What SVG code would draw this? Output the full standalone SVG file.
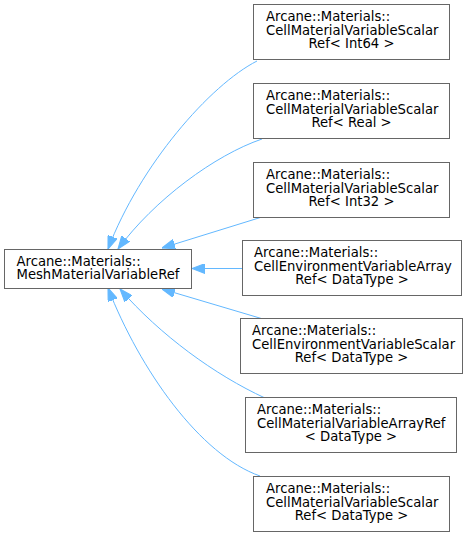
<svg xmlns="http://www.w3.org/2000/svg" width="468" height="537" viewBox="0 0 468 537">
<style>
.n rect{fill:#fff;stroke:#666;stroke-width:1}
.n text{font-family:"DejaVu Sans",sans-serif;font-size:13.2px;fill:#000}
.c{text-anchor:middle}
.e path{fill:none;stroke:#63b8ff;stroke-width:1;marker-end:url(#ah)}
</style>
<defs>
<marker id="ah" markerUnits="userSpaceOnUse" markerWidth="13" markerHeight="10" refX="12" refY="4.5" orient="auto" viewBox="0 0 12 9">
<path d="M0,0 L12,4.5 L0,9 z" fill="#63b8ff" stroke="#63b8ff"/>
</marker>
</defs>
<rect width="468" height="537" fill="#fff"/>
<g class="e" id="edges">
<path d="M257,61 C210,85 140,165 108,249"/>
<path d="M262,139 C215,155 154,200 118,249"/>
<path d="M262,217 L162,248"/>
<path d="M242,268.5 L192,268.5"/>
<path d="M263,319 L162,289"/>
<path d="M265,398 C215,375 160,335 120,289"/>
<path d="M260,476 C200,455 140,370 108,288"/>
</g>
<g class="n" id="base">
<rect x="4.5" y="249.5" width="187" height="39"/>
<text x="16.5" y="265.5">Arcane::Materials::</text>
<text x="16.5" y="279">MeshMaterialVariableRef</text>
</g>
<g class="n" id="n1">
<rect x="253.5" y="4.5" width="196" height="55"/>
<text x="266" y="21">Arcane::Materials::</text>
<text x="266" y="34.5">CellMaterialVariableScalar</text>
<text class="c" x="351.5" y="48">Ref&lt; Int64 &gt;</text>
</g>
<g class="n" id="n2">
<rect x="253.5" y="83.5" width="196" height="55"/>
<text x="266" y="100">Arcane::Materials::</text>
<text x="266" y="113.5">CellMaterialVariableScalar</text>
<text class="c" x="351.5" y="127">Ref&lt; Real &gt;</text>
</g>
<g class="n" id="n3">
<rect x="253.5" y="162.5" width="196" height="55"/>
<text x="266" y="179">Arcane::Materials::</text>
<text x="266" y="192.5">CellMaterialVariableScalar</text>
<text class="c" x="351.5" y="206">Ref&lt; Int32 &gt;</text>
</g>
<g class="n" id="n4">
<rect x="242.5" y="240.5" width="219" height="55"/>
<text x="254" y="257">Arcane::Materials::</text>
<text x="254" y="270.5">CellEnvironmentVariableArray</text>
<text class="c" x="352" y="284">Ref&lt; DataType &gt;</text>
</g>
<g class="n" id="n5">
<rect x="240.5" y="318.5" width="222" height="55"/>
<text x="252" y="335">Arcane::Materials::</text>
<text x="252" y="348.5">CellEnvironmentVariableScalar</text>
<text class="c" x="351.5" y="362">Ref&lt; DataType &gt;</text>
</g>
<g class="n" id="n6">
<rect x="245.5" y="397.5" width="211" height="55"/>
<text x="257" y="414">Arcane::Materials::</text>
<text x="257" y="427.5">CellMaterialVariableArrayRef</text>
<text class="c" x="351" y="441">&lt; DataType &gt;</text>
</g>
<g class="n" id="n7">
<rect x="253.5" y="476.5" width="196" height="55"/>
<text x="266" y="493">Arcane::Materials::</text>
<text x="266" y="506.5">CellMaterialVariableScalar</text>
<text class="c" x="351.5" y="520">Ref&lt; DataType &gt;</text>
</g>
</svg>
